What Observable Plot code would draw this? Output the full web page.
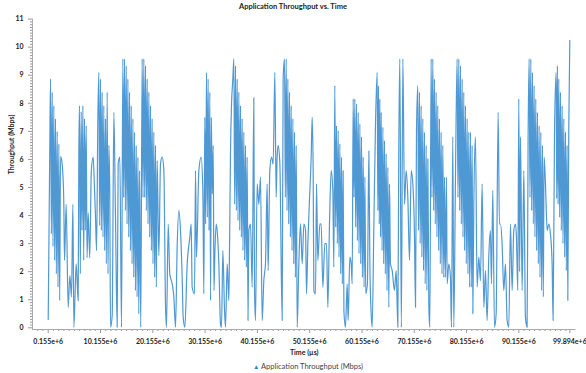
<!DOCTYPE html>
<html><head><meta charset="utf-8">
<script src="https://cdn.jsdelivr.net/npm/d3@7"></script>
<script src="https://cdn.jsdelivr.net/npm/@observablehq/plot@0.6"></script>
<style>
body{margin:0;background:#fff;font-family:Lato,"Open Sans",sans-serif;}
#wrap{width:586px;height:373px;position:relative;overflow:hidden;background:#fff;}
#title{position:absolute;top:0;left:0;width:586px;text-align:center;font-weight:700;font-size:7.5px;line-height:14px;color:#222;}
#chart{position:absolute;top:14px;left:0;}
#legend{position:absolute;top:361px;left:15px;width:586px;text-align:center;font-size:7.5px;line-height:12px;color:#444;}
#legend .sym{color:#2f86cc;font-size:6.5px;}
</style></head><body>
<div id="wrap">
<div id="title">Application Throughput vs. Time</div>
<div id="chart"></div>
<div id="legend"><span class="sym">▲</span> Application Throughput (Mbps)</div>
</div>
<script>
// time in millions of µs
const timeM = [
0.155,0.45,0.60,0.76,0.92,1.07,1.23,1.39,1.55,1.71,1.87,2.03,2.19,2.35,2.51,2.70,2.95,3.14,3.27,3.59,3.97,4.29,4.60,4.87,5.06,5.50,5.88,6.01,6.14,6.30,
6.46,6.62,6.78,6.94,7.10,7.26,7.42,7.58,7.80,8.10,8.40,8.75,9.00,9.20,9.40,9.65,9.84,10.00,10.16,10.32,10.47,10.63,10.79,10.95,11.11,11.27,11.43,11.59,11.75,11.92,
12.07,12.39,12.71,13.02,13.34,13.53,13.85,14.17,14.43,14.59,14.75,14.91,15.07,15.23,15.39,15.55,15.71,15.87,16.03,16.19,16.35,16.51,16.67,16.83,16.99,17.15,17.31,17.47,17.63,17.85,
18.12,18.28,18.44,18.60,18.76,18.92,19.08,19.24,19.40,19.56,19.72,19.88,20.03,20.19,20.35,20.51,20.67,20.83,20.99,21.31,21.63,21.95,22.27,22.58,22.77,23.10,23.40,23.86,24.18,24.50,
24.81,25.13,25.45,25.77,25.96,26.28,26.73,27.24,27.49,27.68,28.13,28.32,28.51,28.96,29.40,29.72,29.91,30.10,30.26,30.42,30.58,30.73,30.90,31.06,31.20,31.35,31.52,31.70,31.85,32.02,
32.27,32.46,32.78,33.10,33.29,33.55,33.87,34.06,34.38,34.69,34.82,35.01,35.20,35.46,35.65,35.81,35.97,36.13,36.29,36.45,36.61,36.77,36.93,37.09,37.24,37.40,37.56,37.72,37.88,38.04,
38.20,38.36,38.52,38.84,39.16,39.47,39.60,39.79,40.11,40.43,40.75,41.07,41.38,41.70,42.02,42.21,42.53,42.85,43.17,43.49,43.74,43.93,44.13,44.45,44.89,45.08,45.34,45.50,45.66,45.82,
45.98,46.14,46.30,46.46,46.62,46.78,46.94,47.10,47.26,47.42,47.58,47.76,48.08,48.40,48.72,49.04,49.36,49.55,49.80,50.10,50.44,50.63,50.82,50.95,51.27,51.46,51.71,52.10,52.35,52.67,
53.05,53.37,53.63,53.94,54.26,54.58,54.77,54.96,55.12,55.28,55.44,55.60,55.76,55.92,56.08,56.24,56.40,56.55,56.70,57.00,57.32,57.51,57.83,58.09,58.28,58.47,58.63,58.79,58.95,59.11,
59.27,59.43,59.59,59.75,59.91,60.07,60.23,60.39,60.55,60.71,60.87,61.19,61.47,61.66,61.91,62.10,62.42,62.74,63.06,63.19,63.32,63.45,63.57,63.70,63.83,64.00,64.15,64.30,64.46,64.62,
64.78,64.94,65.10,65.29,65.42,65.60,65.93,66.37,66.69,67.01,67.20,67.39,67.68,67.97,68.29,68.60,68.92,69.24,69.56,69.88,70.20,70.39,70.58,70.83,70.96,71.15,71.28,71.47,71.60,71.79,
71.92,72.11,72.24,72.43,72.56,72.75,72.94,73.13,73.38,73.54,73.70,73.86,74.01,74.17,74.33,74.49,74.65,74.81,74.97,75.13,75.29,75.45,75.61,75.80,75.93,76.10,76.31,76.44,76.76,77.07,
77.27,77.52,77.71,78.03,78.35,78.51,78.67,78.83,78.99,79.15,79.31,79.47,79.62,79.78,79.94,80.10,80.26,80.42,80.58,80.74,80.90,81.06,81.22,81.35,81.54,81.85,82.17,82.49,82.81,83.13,
83.45,83.77,84.08,84.40,84.72,84.91,85.17,85.49,85.81,86.19,86.44,86.63,86.95,87.27,87.59,87.91,88.23,88.55,88.87,89.18,89.50,89.69,89.95,90.14,90.30,90.46,90.78,91.10,91.41,91.73,
91.92,92.12,92.28,92.44,92.60,92.76,92.92,93.07,93.23,93.39,93.55,93.71,93.87,94.03,94.19,94.35,94.51,94.67,94.83,94.98,95.24,95.56,95.88,96.19,96.51,96.70,96.96,97.28,97.40,97.52,
97.66,97.79,97.95,98.11,98.27,98.43,98.59,98.75,98.91,99.07,99.23,99.38,99.51,99.70,99.894
];
// Application throughput (Mbps)
const throughput = [
0.3,6.3,8.87,3.35,8.4,2.9,7.92,2.4,7.45,1.92,7.0,1.45,6.55,0.97,6.1,6.0,5.5,4.4,2.4,4.4,0.73,1.86,1.1,4.4,0.02,2.28,0.97,6.2,7.92,1.92,
7.7,3.47,7.92,2.4,7.45,3.47,7.2,2.5,4.1,2.5,5.6,6.08,5.0,3.94,2.75,7.5,9.1,3.64,8.87,3.47,8.4,3.23,7.92,2.75,7.45,2.28,8.4,1.92,6.5,4.9,
0.02,0.45,7.68,3.94,0.02,5.84,6.08,0.02,9.58,4.65,9.58,4.18,9.34,3.7,8.87,3.23,8.4,2.75,7.92,2.28,7.45,1.8,6.97,1.33,6.5,1.1,6.08,0.5,5.6,0.02,
9.58,4.65,9.58,4.65,9.34,4.18,8.87,3.7,8.4,3.23,7.92,2.75,7.45,2.28,6.97,1.8,6.5,1.45,5.96,2.57,5.84,6.08,5.6,0.85,0.02,3.7,1.92,1.57,1.1,0.02,
2.87,4.18,3.47,1.8,0.38,0.02,2.28,3.23,3.7,1.45,1.21,5.6,2.52,5.6,6.08,4.9,1.21,7.5,3.7,9.1,3.94,8.87,3.47,8.4,0.97,7.5,4.77,6.5,1.33,2.63,
3.7,3.47,2.28,0.14,0.02,2.75,0.62,0.02,2.28,0.97,2.75,6.2,7.92,8.87,9.58,4.4,9.34,4.18,8.87,3.82,8.4,3.47,7.92,3.23,7.45,2.75,6.97,2.4,6.5,2.16,
6.08,0.26,3.47,3.7,1.45,8.2,1.45,0.26,5.13,4.4,5.37,0.26,1.68,2.28,5.13,2.04,5.6,6.08,5.84,9.1,4.65,6.08,6.5,5.84,0.26,8.87,9.58,4.65,9.58,4.18,
8.87,3.7,8.4,3.23,7.92,2.75,7.45,2.28,6.97,1.8,6.5,0.02,2.28,3.7,2.28,3.7,3.47,1.21,3.0,4.5,6.08,7.5,5.6,1.33,1.21,5.13,2.4,3.7,3.7,1.45,
3.0,3.0,0.73,3.7,5.6,4.9,2.16,8.63,3.59,7.2,3.0,7.03,2.52,6.55,1.92,6.08,1.57,5.6,0.62,0.02,1.57,0.26,2.52,2.28,1.57,8.16,4.65,8.16,3.59,7.98,
3.11,7.68,2.64,7.27,2.28,6.8,1.8,6.08,1.45,5.37,1.21,1.57,6.3,2.28,0.5,0.02,3.59,7.27,9.1,4.18,8.63,3.7,8.16,3.23,7.68,2.75,7.15,2.28,6.67,1.92,
6.2,1.33,5.72,0.73,5.13,2.28,2.04,1.33,2.04,0.02,6.55,9.58,0.02,9.58,4.4,5.6,4.65,2.4,5.6,5.13,3.23,0.73,7.03,8.63,3.47,8.4,3.0,7.92,2.52,7.45,
2.04,6.97,1.57,6.5,1.33,6.02,0.73,0.02,9.58,4.65,9.58,4.18,8.87,3.7,8.4,3.23,7.92,2.75,7.45,2.28,6.97,1.92,6.5,1.8,5.37,1.8,5.37,1.57,2.28,1.8,
0.02,6.8,0.02,5.37,9.58,4.65,9.58,4.18,9.34,3.7,8.87,3.23,8.4,2.75,7.92,2.28,7.45,1.92,6.97,1.45,6.97,1.45,6.5,0.5,4.4,6.8,1.45,2.52,1.68,5.13,
0.73,2.04,0.26,2.52,3.47,1.57,4.9,0.02,0.5,7.68,3.7,3.7,3.0,1.33,2.28,0.26,0.02,3.7,1.33,3.47,3.7,3.23,1.33,8.16,2.0,6.8,1.33,5.6,0.38,0.02,
6.7,9.58,4.65,9.58,4.18,9.1,3.7,8.63,3.23,8.16,2.75,7.68,2.28,7.2,1.8,6.97,1.33,6.5,1.1,6.08,5.13,3.47,3.7,3.35,2.28,0.26,6.8,9.1,4.6,9.34,
4.4,8.87,3.94,8.4,3.47,7.92,3.0,7.45,2.52,6.97,2.04,6.5,0.97,7.15,10.24
];
const xTickValues = [0.155e6,10.155e6,20.155e6,30.155e6,40.155e6,50.155e6,60.155e6,70.155e6,80.155e6,90.155e6,99.894e6];
const xTickLabels = ["0.155e+6","10.155e+6","20.155e+6","30.155e+6","40.155e+6","50.155e+6","60.155e+6","70.155e+6","80.155e+6","90.155e+6","99.894e+6"];
const yTickValues = [0,1,2,3,4,5,6,7,8,9,10,11];

const data = timeM.map((t, i) => ({time: t * 1e6, value: throughput[i]}));
const xMinor = d3.range(-1.845e6, 99.2e6, 1e6).filter(v => !xTickValues.some(m => Math.abs(m - v) < 1e3));
const yMinor = d3.range(1, 110).map(i => i / 10).filter(v => Math.abs(v - Math.round(v)) > 1e-6);
const labelOf = new Map(xTickValues.map((v, i) => [v, xTickLabels[i]]));

const chart = Plot.plot({
  width: 586, height: 347,
  marginTop: 4.6, marginBottom: 32, marginLeft: 32, marginRight: 10.6,
  x: {domain: [-2.85e6, 101.06e6]},
  y: {domain: [-0.06, 11]},
  style: {fontFamily: "Lato, Open Sans, sans-serif", fontSize: "7px", color: "#222", background: "#fff"},
  marks: [
    Plot.axisX({ticks: xMinor, tickSize: 2, tickFormat: () => "", label: null, stroke: "#999"}),
    Plot.axisX({ticks: xTickValues, tickSize: 4, tickPadding: 6, tickFormat: v => labelOf.get(v), label: null, stroke: "#999", fontWeight: 700, fill: "#222"}),
    Plot.axisY({ticks: yMinor, tickSize: 2, tickFormat: () => "", label: null, stroke: "#999"}),
    Plot.axisY({ticks: yTickValues, tickSize: 4, tickPadding: 5, label: null, stroke: "#999", fontWeight: 700, fill: "#222"}),
    Plot.ruleY([-0.06], {stroke: "#aaa"}),
    Plot.ruleX([-2.85e6], {stroke: "#aaa"}),
    Plot.lineY(data, {x: "time", y: "value", stroke: "#2f86cc", strokeWidth: 1.2, strokeOpacity: 0.85, curve: "monotone-x"}),
    Plot.text(["Time (µs)"], {frameAnchor: "bottom", dy: 25, fontWeight: 700, fontSize: 7, fill: "#222"}),
    Plot.text(["Throughput (Mbps)"], {frameAnchor: "left", dx: -21, rotate: -90, fontWeight: 700, fontSize: 7, fill: "#222"})
  ]
});
document.getElementById("chart").appendChild(chart);
</script>
</body></html>
